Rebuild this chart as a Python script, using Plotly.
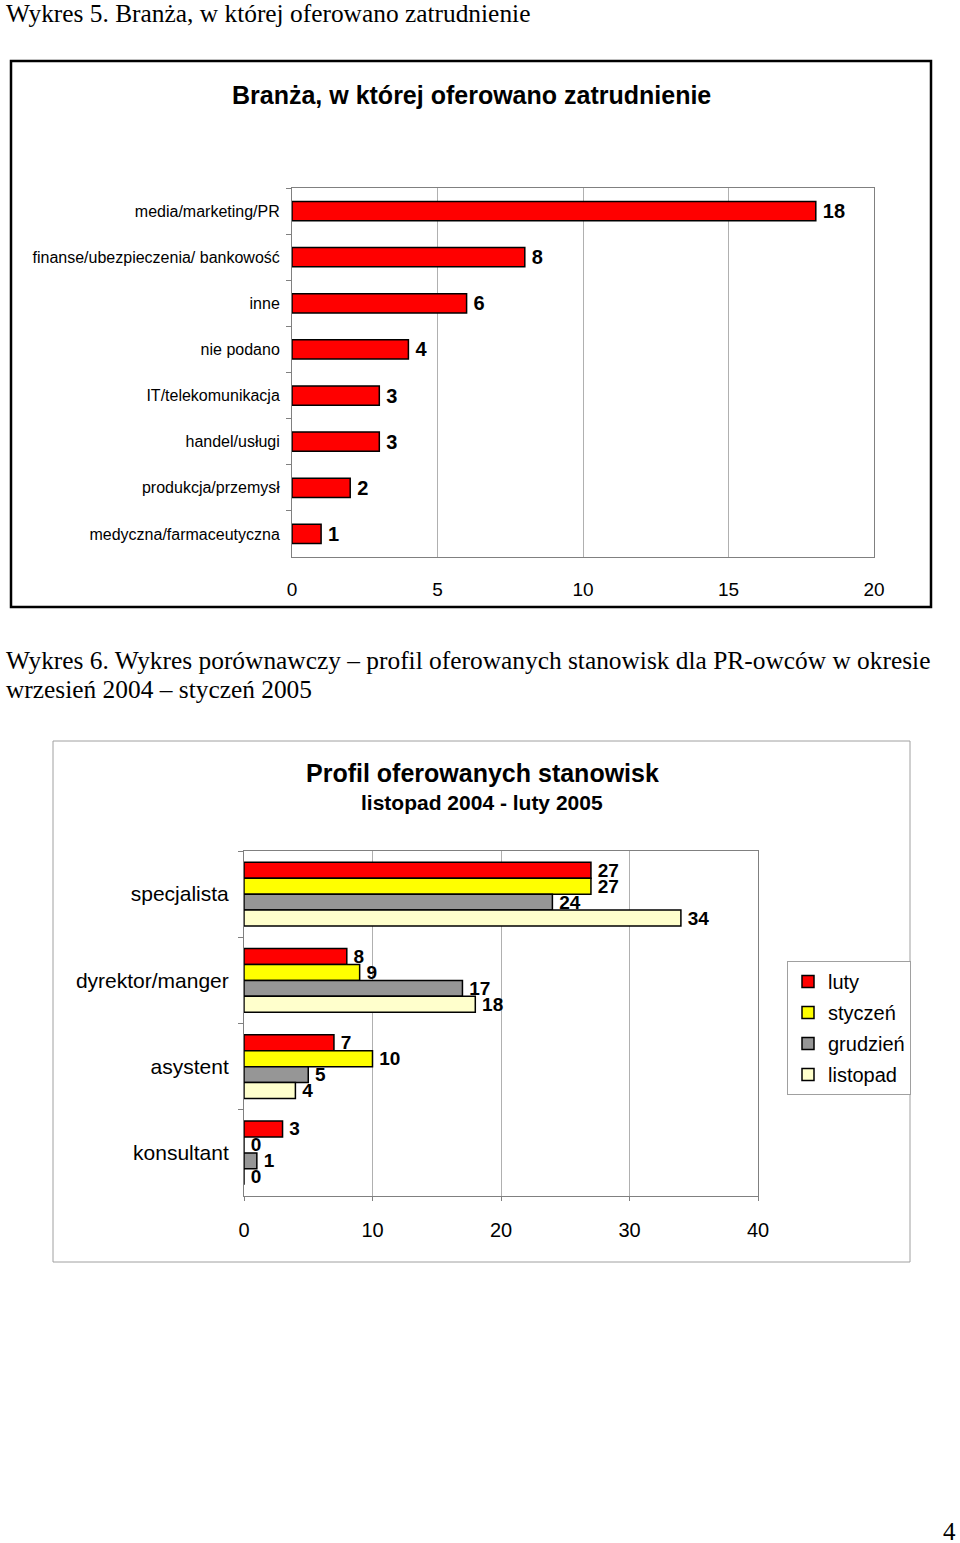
import plotly.graph_objects as go

W, H = 960, 1543

# ---- data: chart 1 ----
branze = ["media/marketing/PR", "finanse/ubezpieczenia/ bankowość", "inne", "nie podano",
          "IT/telekomunikacja", "handel/usługi", "produkcja/przemysł", "medyczna/farmaceutyczna"]
branze_vals = [18, 8, 6, 4, 3, 3, 2, 1]

# ---- data: chart 2 ----
stanowiska = ["specjalista", "dyrektor/manger", "asystent", "konsultant"]
months = ["luty", "styczeń", "grudzień", "listopad"]
luty = [27, 8, 7, 3]
styczen = [27, 9, 10, 0]
grudzien = [24, 17, 5, 1]
listopad = [34, 18, 4, 0]
month_colors = ["#FF0000", "#FFFF00", "#969696", "#FFFFCC"]

SANS = "Liberation Sans, Arial, sans-serif"
SERIF = "Liberation Serif, Times New Roman, serif"


def px(x):
    return x / W


def py(y):
    return 1 - y / H


fig = go.Figure()

fig.add_trace(go.Bar(
    x=branze_vals, y=branze, orientation="h", xaxis="x", yaxis="y",
    marker=dict(color="#FF0000", line=dict(color="black", width=1.5)),
    width=0.42, text=["\u2009" + str(v) for v in branze_vals], textposition="outside",
    constraintext="none",
    textfont=dict(family=SANS, size=20, color="black", weight="bold"),
    cliponaxis=False, showlegend=False, hoverinfo="x+y",
))

for name, vals, col in zip(months, [luty, styczen, grudzien, listopad], month_colors):
    fig.add_trace(go.Bar(
        x=vals, y=stanowiska, orientation="h", xaxis="x2", yaxis="y2", name=name,
        marker=dict(color=col, line=dict(color="black", width=1.5)),
        text=["\u2009" + str(v) for v in vals], textposition="outside", constraintext="none",
        textfont=dict(family=SANS, size=19, color="black", weight="bold"),
        cliponaxis=False, legendgroup=name,
    ))

axis_common = dict(showline=True, linecolor="#808080", linewidth=1, mirror=True,
                   zeroline=False, automargin=False)

fig.update_layout(
    width=W, height=H, margin=dict(l=0, r=0, t=0, b=0, autoexpand=False),
    paper_bgcolor="white", plot_bgcolor="white",
    barmode="group", bargap=0.26, bargroupgap=0,
    font=dict(family=SANS, color="black"),
    xaxis=dict(domain=[px(292), px(874)], anchor="y", range=[0, 20], dtick=5,
               showgrid=True, gridcolor="#B0B0B0", gridwidth=1,
               ticks="", ticklabelstandoff=15,
               tickfont=dict(family=SANS, size=19), **axis_common),
    yaxis=dict(domain=[py(557), py(188)], anchor="x", autorange="reversed",
               type="category", tickson="boundaries", ticks="outside", ticklen=5,
               tickcolor="#808080", showgrid=False, ticklabelstandoff=8,
               tickfont=dict(family=SANS, size=16), **axis_common),
    xaxis2=dict(domain=[px(244), px(758)], anchor="y2", range=[0, 40], dtick=10,
                showgrid=True, gridcolor="#B0B0B0", gridwidth=1,
                ticks="outside", ticklen=4, tickcolor="#808080", ticklabelstandoff=12,
                tickfont=dict(family=SANS, size=20), **axis_common),
    yaxis2=dict(domain=[py(1196), py(851)], anchor="x2", autorange="reversed",
                type="category", tickson="boundaries", ticks="outside", ticklen=5,
                tickcolor="#808080", showgrid=False, ticklabelstandoff=10,
                tickfont=dict(family=SANS, size=21), **axis_common),
    legend=dict(x=px(787), y=py(961), xanchor="left", yanchor="top",
                bordercolor="#A0A0A0", borderwidth=1, bgcolor="white",
                font=dict(family=SANS, size=20), traceorder="grouped",
                tracegroupgap=2, itemwidth=30),
)

shapes = [
    dict(type="rect", xref="paper", yref="paper", x0=px(11), x1=px(931), y0=py(607), y1=py(61),
         line=dict(color="black", width=2.5), fillcolor="rgba(0,0,0,0)", layer="below"),
    dict(type="rect", xref="paper", yref="paper", x0=px(53), x1=px(910), y0=py(1262), y1=py(741),
         line=dict(color="#A0A0A0", width=1), fillcolor="rgba(0,0,0,0)", layer="below"),
]
fig.update_layout(shapes=shapes)

ann = [
    dict(text="Wykres 5. Branża, w której oferowano zatrudnienie", x=px(4), y=py(13),
         xanchor="left", yanchor="middle", font=dict(family=SERIF, size=25.4)),
    dict(text="<b>Branża, w której oferowano zatrudnienie</b>", x=px(471), y=py(95),
         xanchor="center", yanchor="middle", font=dict(family=SANS, size=25)),
    dict(text="Wykres 6. Wykres porównawczy – profil oferowanych stanowisk dla PR-owców w okresie",
         x=px(4), y=py(660), xanchor="left", yanchor="middle", font=dict(family=SERIF, size=25.4)),
    dict(text="wrzesień 2004 – styczeń 2005", x=px(4), y=py(689), xanchor="left",
         yanchor="middle", font=dict(family=SERIF, size=25.4)),
    dict(text="<b>Profil oferowanych stanowisk</b>", x=px(482), y=py(773), xanchor="center",
         yanchor="middle", font=dict(family=SANS, size=25)),
    dict(text="<b>listopad 2004 - luty 2005</b>", x=px(482), y=py(803), xanchor="center",
         yanchor="middle", font=dict(family=SANS, size=21)),
    dict(text="4", x=px(958), y=py(1531), xanchor="right", yanchor="middle",
         font=dict(family=SERIF, size=25)),
]
for a in ann:
    a.update(xref="paper", yref="paper", showarrow=False)
fig.update_layout(annotations=ann)

fig.write_html(
    "out.html",
    config={"displayModeBar": False},
    post_script="document.body.style.margin='0';document.body.style.overflow='hidden';",
)
